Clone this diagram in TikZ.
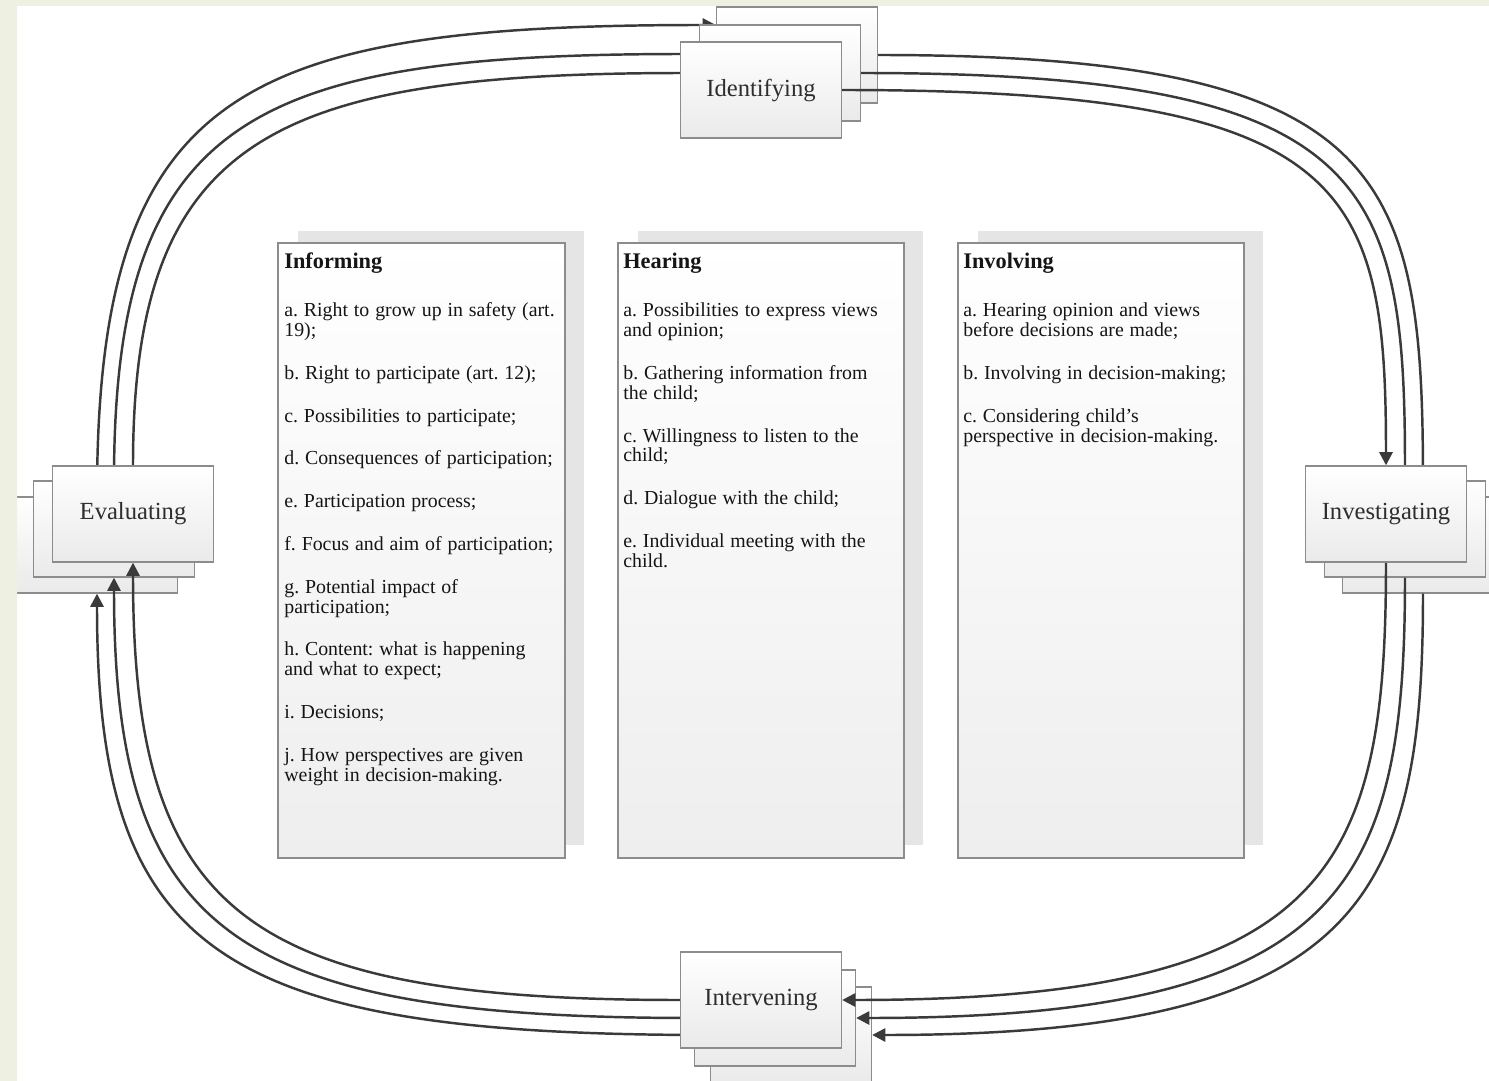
\documentclass[tikz,border=0pt]{standalone}
\usepackage{fontspec}
\setmainfont{Liberation Serif}
\usetikzlibrary{arrows.meta}
\definecolor{bggreen}{HTML}{EEF1E2}
\definecolor{boxline}{HTML}{8C8C8C}
\definecolor{boxbot}{HTML}{EAEAEA}
\definecolor{colbot}{HTML}{EEEEEE}
\definecolor{colshade}{HTML}{E5E5E5}
\definecolor{flowline}{HTML}{3A3A3A}
\definecolor{labeltext}{HTML}{2E2E2E}
\definecolor{bodytext}{HTML}{151515}
\newcommand\mybodyfont{\fontsize{11.3}{11.34}\selectfont}
\newcommand\mylabelfont{\fontsize{14}{16}\selectfont}
\newcommand\colstart{\frenchspacing\mybodyfont\setlength{\parskip}{13pt}\lineskiplimit=-20pt\relax}
\newcommand\coltitle[1]{{\fontsize{12.7}{13}\selectfont\bfseries #1\par}\vspace{2.8pt}}
\pgfdeclarelayer{bglayer}
\pgfdeclarelayer{backlayer}
\pgfdeclarelayer{midlayer}
\pgfdeclarelayer{toplayer}
\pgfsetlayers{bglayer,backlayer,midlayer,main,toplayer}
\tikzset{
  cbox/.style={draw=boxline, line width=0.8pt, top color=white, bottom color=boxbot,
    minimum width=3.22cm, minimum height=1.92cm, inner sep=0pt, font=\mylabelfont, text=labeltext},
  colbox/.style={draw=boxline, line width=0.8pt, top color=white, bottom color=colbot, inner sep=0pt},
  flow/.style={draw=flowline, line width=1.4pt},
  flowarr/.style={flow, -{Triangle[length=7.5pt,width=7.5pt]}},
  coltext/.style={anchor=base west, inner sep=0pt, text width=172pt, align=left, text=bodytext}
}
\begin{document}
\begin{tikzpicture}[x=0.02cm,y=-0.02cm]
\path[use as bounding box] (0,0) rectangle (1489,1081);

\begin{pgfonlayer}{bglayer}
\fill[white] (0,0) rectangle (1489,1081);
% ---- columns ----
\fill[colshade] (298,231) rectangle (584,845);
\fill[colshade] (638,231) rectangle (923,845);
\fill[colshade] (978,231) rectangle (1263,845);
\node[colbox, minimum width=5.74cm, minimum height=12.3cm] (colInf) at (421.5,550.5) {};
\node[colbox, minimum width=5.72cm, minimum height=12.3cm] (colHear) at (761,550.5) {};
\node[colbox, minimum width=5.72cm, minimum height=12.3cm] (colInv) at (1101,550.5) {};

\node[coltext] (txtInf) at (284,269) {\colstart\coltitle{Informing}
a. Right to grow up in safety (art.\\19);\par
b. Right to participate (art. 12);\par
c. Possibilities to participate;\par
d. Consequences of participation;\par
e. Participation process;\par
f. Focus and aim of participation;\par
g. Potential impact of\\participation;\par
h. Content: what is happening\\and what to expect;\par
i. Decisions;\par
j. How perspectives are given\\weight in decision-making.\par};

\node[coltext] (txtHear) at (623,269) {\colstart\coltitle{Hearing}
a. Possibilities to express views\\and opinion;\par
b. Gathering information from\\the child;\par
c. Willingness to listen to the\\child;\par
d. Dialogue with the child;\par
e. Individual meeting with the\\child.\par};

\node[coltext] (txtInv) at (963,269) {\colstart\coltitle{Involving}
a. Hearing opinion and views\\before decisions are made;\par
b. Involving in decision-making;\par
c. Considering child's\\perspective in decision-making.\par};
\end{pgfonlayer}

% ---- back and middle cycle boxes ----
\begin{pgfonlayer}{backlayer}
\node[cbox] (idB) at (797,55) {};
\node[cbox] (inB) at (1423,545) {};
\node[cbox] (itB) at (791,1035) {};
\node[cbox] (evB) at (97,545) {};
% the outermost Evaluating -> Identifying flow runs under the middle box
\draw[flowarr] (evB.north) .. controls (97,90) and (240,25) .. (idB.west |- 0,25);
\node[cbox] (idM) at (780,73) {};
\node[cbox] (inM) at (1405,529) {};
\node[cbox] (itM) at (775,1018) {};
\node[cbox] (evM) at (114,529) {};
\end{pgfonlayer}

% ---- front cycle boxes ----
\node[cbox] (idF) at (761,90) {Identifying};
\node[cbox] (inF) at (1386,514) {Investigating};
\node[cbox] (itF) at (761,1000) {Intervening};
\node[cbox] (evF) at (133,514) {Evaluating};

% ---- flows (above back boxes, below front boxes) ----
\begin{pgfonlayer}{midlayer}
% Evaluating -> Identifying
\draw[flowarr] (evM.north) .. controls (114,115) and (255,54) .. (idM.west |- 0,54);
\draw[flowarr] (evF.north) .. controls (133,135) and (275,73) .. (idM.west |- 0,73);
% Identifying -> Investigating
\draw[flowarr] (idB.east) .. controls (1390,55) and (1423,175) .. (inB.north);
\draw[flowarr] (idM.east) .. controls (1370,73) and (1405,180) .. (inM.north);
\draw[flowarr] (idF.east) .. controls (1350,90) and (1386,185) .. (inF.north);
% Investigating -> Intervening
\draw[flowarr] (inB.south) .. controls (1423,900) and (1360,1035) .. (itB.east);
\draw[flowarr] (inM.south) .. controls (1405,885) and (1345,1018) .. (itM.east);
\draw[flowarr] (inF.south) .. controls (1386,870) and (1330,1000) .. (itF.east);
% Intervening -> Evaluating
\draw[flowarr] (itB.west) .. controls (215,1035) and (97,950) .. (evB.south);
\draw[flowarr] (itM.west) .. controls (230,1018) and (114,930) .. (evM.south);
\draw[flowarr] (itF.west) .. controls (243,1000) and (133,912) .. (evF.south);
\end{pgfonlayer}

% ---- outer frame ----
\begin{pgfonlayer}{toplayer}
\fill[bggreen, even odd rule] (-20,-20) rectangle (1520,1100) (17,6) rectangle (1520,1100);
\end{pgfonlayer}
\end{tikzpicture}
\end{document}
